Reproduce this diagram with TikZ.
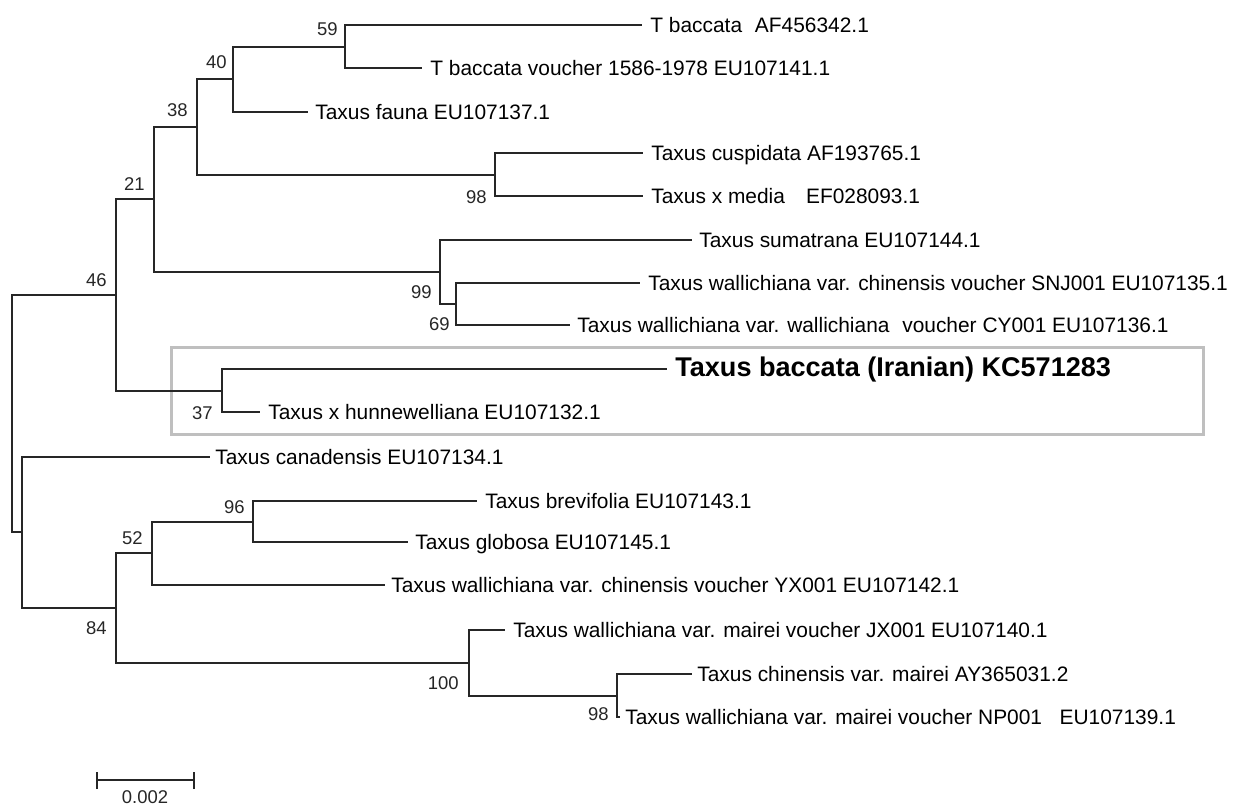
\documentclass[tikz,border=0pt]{standalone}
\usepackage{fontspec}
\setmainfont{Liberation Sans}
\begin{document}
\begin{tikzpicture}[x=0.02cm,y=-0.02cm,
  br/.style={line width=0.4mm, draw=black!85},
  leaf/.style={anchor=base west, inner sep=0pt, font=\fontsize{11.9pt}{14pt}\selectfont},
  boldleaf/.style={anchor=base west, inner sep=0pt, font=\fontsize{15.4pt}{18pt}\selectfont\bfseries},
  boot/.style={anchor=base east, inner sep=0pt, font=\fontsize{10.5pt}{12pt}\selectfont, text=black!85},
  hibox/.style={draw=black!25, line width=0.6mm, inner sep=0pt, minimum width=20.66cm, minimum height=1.76cm}]
\useasboundingbox (0,0) rectangle (1257,807);
% highlight box
\node[hibox] (box) at (687.5,391) {};
% leaf tips
\coordinate (t1) at (642,25);
\coordinate (t2) at (422,68);
\coordinate (t3) at (308,112);
\coordinate (t4) at (643,153);
\coordinate (t5) at (643,196);
\coordinate (t6) at (692,240);
\coordinate (t7) at (640,283);
\coordinate (t8) at (570,325);
\coordinate (t9) at (667,369);
\coordinate (t10) at (260,412);
\coordinate (t11) at (210,457);
\coordinate (t12) at (477,501);
\coordinate (t13) at (408,542);
\coordinate (t14) at (385,585);
\coordinate (t15) at (505,630);
\coordinate (t16) at (692,674);
\coordinate (t17) at (620,717);
% internal nodes
\coordinate (n59) at (345,47);
\coordinate (n40) at (233,79);
\coordinate (nc98) at (495,175);
\coordinate (n38) at (197,127);
\coordinate (n69) at (456,304);
\coordinate (n99) at (440,272);
\coordinate (n21) at (154,199);
\coordinate (n37) at (222,391);
\coordinate (n46) at (116,295);
\coordinate (n96) at (253,522);
\coordinate (n52) at (152,553);
\coordinate (n98b) at (617,696);
\coordinate (n100) at (469,663);
\coordinate (n84) at (116,608);
\coordinate (ncan) at (22,532);
\coordinate (root) at (12,414);
% branches
\draw[br] (n59) |- (t1);
\draw[br] (n59) |- (t2);
\draw[br] (n40) |- (n59);
\draw[br] (n40) |- (t3);
\draw[br] (nc98) |- (t4);
\draw[br] (nc98) |- (t5);
\draw[br] (n38) |- (n40);
\draw[br] (n38) |- (nc98);
\draw[br] (n69) |- (t7);
\draw[br] (n69) |- (t8);
\draw[br] (n99) |- (t6);
\draw[br] (n99) |- (n69);
\draw[br] (n21) |- (n38);
\draw[br] (n21) |- (n99);
\draw[br] (n37) |- (t9);
\draw[br] (n37) |- (t10);
\draw[br] (n46) |- (n21);
\draw[br] (n46) |- (n37);
\draw[br] (n96) |- (t12);
\draw[br] (n96) |- (t13);
\draw[br] (n52) |- (n96);
\draw[br] (n52) |- (t14);
\draw[br] (n98b) |- (t16);
\draw[br] (n98b) |- (t17);
\draw[br] (n100) |- (t15);
\draw[br] (n100) |- (n98b);
\draw[br] (n84) |- (n52);
\draw[br] (n84) |- (n100);
\draw[br] (ncan) |- (t11);
\draw[br] (ncan) |- (n84);
\draw[br] (root) |- (n46);
\draw[br] (root) |- (ncan);
% leaf labels
\node[leaf] (L1) at ([shift={(8,7.5)}]t1) {T baccata\hspace{7.3pt}AF456342.1};
\node[leaf] (L2) at ([shift={(8,7.5)}]t2) {T baccata voucher 1586-1978 EU107141.1};
\node[leaf] (L3) at ([shift={(7,7.5)}]t3) {Taxus fauna EU107137.1};
\node[leaf] (L4) at ([shift={(8,7.5)}]t4) {Taxus cuspidata AF193765.1};
\node[leaf] (L5) at ([shift={(8,7.5)}]t5) {Taxus x media\hspace{12pt}EF028093.1};
\node[leaf] (L6) at ([shift={(7,7.5)}]t6) {Taxus sumatrana EU107144.1};
\node[leaf] (L7) at ([shift={(8,7.5)}]t7) {Taxus wallichiana var. chinensis voucher SNJ001 EU107135.1};
\node[leaf] (L8) at ([shift={(7,7.5)}]t8) {Taxus wallichiana var. wallichiana\hspace{7.3pt}voucher CY001 EU107136.1};
\node[boldleaf] (L9) at ([shift={(8,8)}]t9) {Taxus baccata (Iranian) KC571283};
\node[leaf] (L10) at ([shift={(8,7.5)}]t10) {Taxus x hunnewelliana EU107132.1};
\node[leaf] (L11) at ([shift={(5,7.5)}]t11) {Taxus canadensis EU107134.1};
\node[leaf] (L12) at ([shift={(8,7.5)}]t12) {Taxus brevifolia EU107143.1};
\node[leaf] (L13) at ([shift={(7,7.5)}]t13) {Taxus globosa EU107145.1};
\node[leaf] (L14) at ([shift={(6,7.5)}]t14) {Taxus wallichiana var. chinensis voucher YX001 EU107142.1};
\node[leaf] (L15) at ([shift={(8,7.5)}]t15) {Taxus wallichiana var. mairei voucher JX001 EU107140.1};
\node[leaf] (L16) at ([shift={(5,7.5)}]t16) {Taxus chinensis var. mairei AY365031.2};
\node[leaf] (L17) at ([shift={(5,7.5)}]t17) {Taxus wallichiana var. mairei voucher NP001\hspace{10pt}EU107139.1};
% bootstrap values
\node[boot] (b59) at (338,36) {59};
\node[boot] (b40) at (227,69) {40};
\node[boot] (b38) at (188,117) {38};
\node[boot] (b21) at (145,191) {21};
\node[boot] (b46) at (107,287) {46};
\node[boot] (bc98) at (487,204) {98};
\node[boot] (b99) at (432,299) {99};
\node[boot] (b69) at (450,331) {69};
\node[boot] (b37) at (213,419) {37};
\node[boot] (b96) at (245,513) {96};
\node[boot] (b52) at (143,544) {52};
\node[boot] (b84) at (107,634) {84};
\node[boot] (b100) at (459,689) {100};
\node[boot] (b98b) at (609,720) {98};
% scale bar
\coordinate (sb1) at (97,780);
\coordinate (sb2) at (194,780);
\draw[br, line width=0.5mm] (sb1) -- (sb2);
\draw[br, line width=0.5mm] ([yshift=-0.18cm]sb1) -- ([yshift=0.16cm]sb1);
\draw[br, line width=0.5mm] ([yshift=-0.18cm]sb2) -- ([yshift=0.16cm]sb2);
\node[boot, anchor=base] (sbl) at (145,803) {0.002};
\end{tikzpicture}
\end{document}
